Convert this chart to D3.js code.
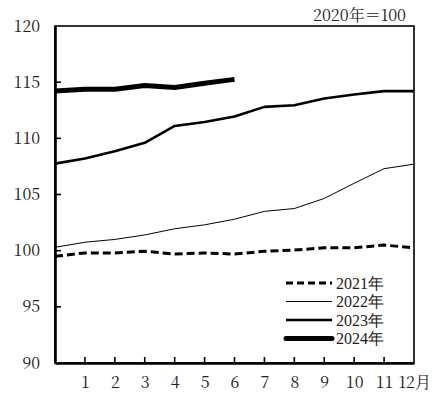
<!DOCTYPE html>
<html><head><meta charset="utf-8">
<script src="https://cdn.jsdelivr.net/npm/d3@7"></script>
<style>body{margin:0;background:#fff;}</style></head>
<body><svg id="c" width="438" height="394"></svg>
<script>
const months = [0,1,2,3,4,5,6,7,8,9,10,11,12];
const v2021 = [99.5,99.8,99.8,99.95,99.7,99.8,99.7,99.95,100.05,100.25,100.25,100.5,100.25];
const v2022 = [100.3,100.75,101.0,101.4,101.95,102.3,102.8,103.5,103.75,104.65,106.0,107.3,107.7];
const v2023 = [107.75,108.2,108.85,109.6,111.1,111.45,111.95,112.8,112.95,113.55,113.9,114.2,114.2];
const v2024 = [114.22,114.37,114.37,114.7,114.52,114.9,115.25];
const seriesNames = ["2021年","2022年","2023年","2024年"];
const yTicks = [90,95,100,105,110,115,120];
const xTickLabels = ["1","2","3","4","5","6","7","8","9","10","11","12月"];
const unitLabel = "2020年＝100";

const FONT = '"Noto Serif CJK JP"';
const LFONT = '"Liberation Serif"';
const styles = [
  {w:3, dash:"8,4"},
  {w:1, dash:null},
  {w:2.6, dash:null},
  {w:5, dash:null}
];
const allSeries = [v2021,v2022,v2023,v2024];

const svg = d3.select("#c");
const L=55,R=414,T=26,B=363;
const x = d3.scaleLinear().domain([0,12]).range([L,R]);
const y = d3.scaleLinear().domain([90,120]).range([B,T]);

svg.append("rect").attr("x",L).attr("y",T).attr("width",R-L).attr("height",B-T)
  .attr("fill","none").attr("stroke","#000").attr("stroke-width",1.6);

const yAxis = d3.axisLeft(y).tickValues(yTicks).tickSize(0).tickPadding(15);
const gy = svg.append("g").attr("transform",`translate(${L},0)`).call(yAxis);
gy.select(".domain").attr("stroke","#000").attr("stroke-width",2.6);
gy.selectAll("text").attr("font-size",16).attr("fill","#222").style("font-family",FONT);
svg.append("g").selectAll("line").data(yTicks.filter(d=>d>90&&d<120)).join("line")
  .attr("x1",L).attr("x2",L+6).attr("y1",d=>y(d)).attr("y2",d=>y(d))
  .attr("stroke","#000").attr("stroke-width",1.6);

const xAxis = d3.axisBottom(x).tickValues(d3.range(1,13)).tickSize(0).tickPadding(14)
  .tickFormat((d,i)=>xTickLabels[i]);
const gx = svg.append("g").attr("transform",`translate(0,${B})`).call(xAxis);
gx.select(".domain").attr("stroke","#000").attr("stroke-width",2.6);
gx.selectAll("text").attr("font-size",16).attr("fill","#222").style("font-family",FONT);
gx.selectAll(".tick").filter(d=>d===12).select("text").attr("text-anchor","start").attr("x",-16);
svg.append("g").selectAll("line").data(d3.range(1,12)).join("line")
  .attr("x1",d=>x(d)).attr("x2",d=>x(d)).attr("y1",B).attr("y2",B-6)
  .attr("stroke","#000").attr("stroke-width",1.6);

const line = d3.line().x((d,i)=>x(months[i])).y(d=>y(d));
allSeries.forEach((s,k)=>{
  const p = svg.append("path").datum(s).attr("d",line).attr("fill","none")
    .attr("stroke","#000").attr("stroke-width",styles[k].w)
    .attr("stroke-linejoin","round");
  if(styles[k].dash) p.attr("stroke-dasharray",styles[k].dash);
});

const lg = svg.append("g");
seriesNames.forEach((n,k)=>{
  const yy = 283 + k*18.5;
  const l = lg.append("line").attr("x1",286).attr("x2",332).attr("y1",yy).attr("y2",yy)
    .attr("stroke","#000").attr("stroke-width",styles[k].w).attr("stroke-linecap", k===3?"round":"butt");
  if(styles[k].dash) l.attr("stroke-dasharray","7,4");
  lg.append("text").attr("x",336).attr("y",yy).attr("dy","0.35em").attr("font-size",16)
    .attr("fill","#222").style("font-family",LFONT).text(n);
});

svg.append("text").attr("x",406).attr("y",15).attr("dy","0.35em").attr("text-anchor","end")
  .attr("font-size",16).attr("fill","#222").style("font-family",FONT).text(unitLabel);
</script></body></html>
